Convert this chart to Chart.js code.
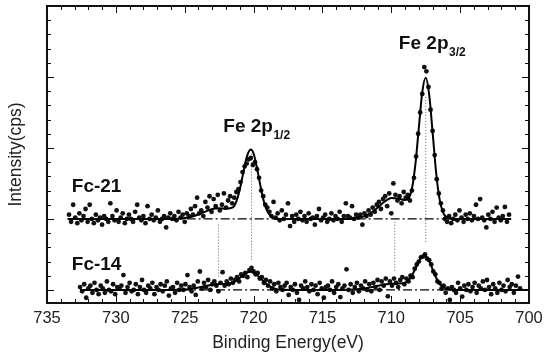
<!DOCTYPE html>
<html>
<head>
<meta charset="utf-8">
<script src="https://cdn.jsdelivr.net/npm/chart.js@4.4.1/dist/chart.umd.min.js"></script>
<style>
  html, body { margin: 0; padding: 0; background: #fff; }
</style>
</head>
<body>
<canvas id="chartXps" width="550" height="358"></canvas>
<script>
// measured points, one every eStep eV starting at the high-energy end
const eStep = 0.15;
const fc21Start = 733.4;
const fc14Start = 732.6;

const fc21Counts = [
    5.3, 4.8, 6.0, 5.1, 4.7, 5.4, 4.9, 5.2, 5.7, 4.8,
    6.0, 5.0, 4.7, 5.3, 4.9, 5.1, 4.6, 5.2, 5.0, 4.8,
    6.1, 5.2, 4.9, 5.6, 4.8, 5.1, 5.4, 4.7, 5.0, 5.3,
    5.0, 4.8, 5.5, 6.0, 5.1, 4.9, 5.2, 4.7, 5.9, 5.0,
    5.3, 4.9, 5.1, 5.6, 4.8, 5.0, 5.2, 4.4, 5.1, 5.4,
    5.0, 5.2, 4.9, 5.5, 5.1, 5.3, 4.8, 5.4, 5.2, 5.7,
    5.3, 5.9, 6.5, 5.4, 5.6, 5.2, 6.2, 5.8, 6.6, 5.5,
    6.4, 5.9, 6.7, 5.6, 6.0, 6.8, 5.8, 6.3, 6.6, 6.1,
    6.5, 6.9, 7.1, 7.6, 8.3, 8.7, 8.9, 9.2, 9.3, 8.8,
    9.0, 8.5, 7.9, 7.0, 6.6, 6.0, 5.8, 5.5, 5.2, 6.2,
    5.1, 5.4, 4.9, 5.6, 5.0, 5.3, 6.1, 4.5, 5.2, 4.8,
    5.3, 5.0, 5.5, 4.9, 5.2, 4.8, 5.4, 5.0, 5.1, 4.6,
    5.2, 5.7, 4.9, 5.1, 5.3, 4.8, 5.0, 5.4, 4.9, 5.2,
    5.0, 5.5, 4.8, 5.2, 6.1, 5.2, 5.1, 5.9, 5.0, 5.3,
    5.1, 5.3, 4.6, 5.4, 5.2, 5.6, 5.3, 5.8, 5.5, 6.0,
    6.2, 5.7, 6.4, 6.6, 5.9, 6.8, 5.4, 7.5, 6.7, 6.3,
    6.6, 6.1, 6.9, 6.5, 6.7, 6.3, 7.0, 7.9, 9.4, 11.0,
    12.5, 13.8, 15.7, 15.4, 14.3, 12.7, 11.2, 9.5, 7.8, 6.8,
    6.1, 5.6, 5.0, 4.8, 5.2, 4.7, 5.0, 5.3, 4.9, 5.6,
    5.1, 4.8, 5.3, 5.0, 5.4, 4.9, 5.2, 6.0, 5.0, 6.4,
    5.1, 4.9, 4.4, 5.3, 5.0, 5.5, 4.8, 5.8, 5.1, 4.9,
    5.2, 5.85, 4.8, 5.3
];

const fc14Counts = [
    0.2, -0.1, 0.4, -0.55, 0.1, 0.3, -0.2, 0.5, 0.0, -0.3,
    0.3, 0.1, -0.2, 0.6, 0.0, -0.1, 0.4, -0.3, 0.2, 0.1,
    0.3, 1.05, -0.2, 0.2, 0.5, -0.1, 0.0, 0.4, -0.3, 0.2,
    0.7, 0.0, -0.2, 0.3, 0.1, 0.5, -0.3, 0.2, 0.0, 0.4,
    -0.1, 0.3, 0.6, -0.4, 0.1, 0.2, -0.2, 0.5, 0.0, 0.3,
    0.0, 0.4, 1.05, 0.2, -0.1, 0.3, -0.35, 0.6, 1.3, 0.1,
    0.5, 0.2, 0.7, 0.0, 0.4, 0.6, 0.3, -0.1, 0.5, 1.25,
    0.3, 0.6, 0.4, 0.8, 0.5, 0.7, 0.9, 0.6, 1.1, 1.0,
    1.2, 0.9, 1.4, 1.55, 1.3, 1.1, 1.2, 0.8, 0.9, 0.5,
    0.7, 0.3, 0.6, 0.1, 0.4, -0.1, 0.5, 0.2, 0.0, 0.3,
    0.5, -0.35, 0.2, 0.0, 0.4, -0.2, -0.7, 0.3, 0.1, 0.6,
    0.2, -0.1, 0.4, 0.0, 0.3, -0.3, 0.5, 0.1, -0.55, 0.2,
    0.3, 0.0, 0.6, -0.2, 0.2, 0.4, -0.5, 0.1, 0.3, 1.45,
    0.0, 0.4, -0.2, 0.2, 0.5, -0.1, 0.3, 0.1, 0.6, 0.0,
    0.4, -0.1, 0.5, 0.2, 0.7, 0.0, 0.6, 0.3, 0.8, -0.45,
    0.6, 0.3, 0.8, 0.5, 0.2, 0.7, 0.9, 0.4, 0.8, 0.6,
    1.0, 0.9, 1.5, 1.8, 2.0, 2.3, 2.35, 2.5, 2.2, 2.1,
    1.8, 1.3, 1.1, 0.6, 0.5, 0.1, 0.3, -0.2, 0.1, -0.7,
    0.2, 0.0, -0.2, 0.5, 0.1, -0.47, 0.3, 0.0, 0.4, -0.1,
    0.2, 0.5, -0.2, 0.3, 0.1, 0.6, 0.0, 0.7, 0.2, -0.3,
    0.4, 0.1, -0.2, 0.5, 0.0, 0.3, -0.1, 0.7, 0.2, 0.4,
    -0.2, 0.3, 0.94, 0.1
];

// fitted envelopes
const fit21Energy = [733.5, 726, 725.5, 725, 724.5, 724, 723.5, 723, 722.5, 722, 721.5, 721.25, 721, 720.75,
    720.5, 720.2, 720, 719.75, 719.5, 719.25, 719, 718.5, 718, 713, 712.5, 712, 711.5, 711, 710.5, 710,
    709.5, 709, 708.75, 708.5, 708.25, 708, 707.75, 707.5, 707.25, 707, 706.75, 706.5, 706.25, 706, 705.5, 701.3];
const fit21Counts = [5, 5, 5.02, 5.06, 5.15, 5.31, 5.52, 5.70, 5.75, 5.72, 5.81, 6.24, 7.08, 8.23,
    9.35, 9.89, 9.61, 8.58, 7.32, 6.23, 5.54, 5.06, 5, 5, 5.06, 5.18, 5.42, 5.79, 6.21, 6.48,
    6.44, 6.33, 6.45, 7.14, 8.84, 11.42, 13.93, 14.94, 13.77, 11.11, 8.32, 6.43, 5.48, 5.13, 5, 5];

const fit14Energy = [732.6, 726, 725, 724.5, 724, 723.5, 723, 722.5, 722, 721.5, 721, 720.5, 720.2, 720,
    719.5, 719, 718.5, 718, 714, 713, 712.5, 712, 711.5, 711, 710.5, 710, 709.5, 709, 708.75, 708.5,
    708.25, 708, 707.6, 707.25, 707, 706.75, 706.5, 706, 705.5, 700];
const fit14Counts = [0, 0, 0.03, 0.08, 0.17, 0.28, 0.37, 0.41, 0.42, 0.52, 0.85, 1.22, 1.28, 1.23,
    0.83, 0.36, 0.11, 0.02, 0, 0.02, 0.05, 0.10, 0.18, 0.29, 0.39, 0.44, 0.45, 0.52, 0.68, 1.02,
    1.50, 2.04, 2.45, 2.04, 1.45, 0.88, 0.44, 0.07, 0, 0];

// background lines
const base21Energy = [733.5, 701.3];
const base21Counts = [5, 5];
const base14Energy = [732.6, 700];
const base14Counts = [0, 0];

// peak position guides
const guideEnergy = [722.55, 720.15, 709.75, 707.5];
const guideTop = [4.6, 9.6, 4.8, 13.6];
const guideBottom = [0.9, 2.1, 1.35, 3.3];

const xTicks = [735, 730, 725, 720, 715, 710, 705, 700];

function pairs(xs, ys) {
    return xs.map((v, i) => ({x: v, y: ys[i]}));
}

function grid(start, counts) {
    return counts.map((c, i) => ({x: +(start - i * eStep).toFixed(2), y: c}));
}

const FONT = "'Liberation Sans', Arial, sans-serif";

const datasets = [
    {
        data: pairs(base21Energy, base21Counts),
        showLine: true, pointRadius: 0, borderColor: '#000', borderWidth: 1.2, borderDash: [9, 3, 2, 3]
    },
    {
        data: pairs(base14Energy, base14Counts),
        showLine: true, pointRadius: 0, borderColor: '#000', borderWidth: 1.2, borderDash: [9, 3, 2, 3]
    },
    {
        data: pairs(fit21Energy, fit21Counts),
        showLine: true, pointRadius: 0, borderColor: '#000', borderWidth: 2, cubicInterpolationMode: 'monotone'
    },
    {
        data: pairs(fit14Energy, fit14Counts),
        showLine: true, pointRadius: 0, borderColor: '#000', borderWidth: 2, cubicInterpolationMode: 'monotone'
    },
    {
        data: grid(fc21Start, fc21Counts),
        pointRadius: 2.4, pointBackgroundColor: '#111', pointBorderWidth: 0
    },
    {
        data: grid(fc14Start, fc14Counts),
        pointRadius: 2.4, pointBackgroundColor: '#111', pointBorderWidth: 0
    }
];

guideEnergy.forEach((e, i) => {
    datasets.push({
        data: [{x: e, y: guideTop[i]}, {x: e, y: guideBottom[i]}],
        showLine: true, pointRadius: 0, borderColor: '#666', borderWidth: 1, borderDash: [1, 2]
    });
});

// labels placed in data units (eV, counts)
const peakLabels = [
    {main: 'Fe 2p', sub: '1/2', x: 722.2, y: 11.1},
    {main: 'Fe 2p', sub: '3/2', x: 709.45, y: 17.0}
];
const sampleLabels = [
    {text: 'Fc-21', x: 733.2, y: 6.9},
    {text: 'Fc-14', x: 733.2, y: 1.4}
];

const framePlugin = {
    id: 'frame',
    afterDraw(chart) {
        const {ctx, chartArea: a, scales: {x, y}} = chart;
        ctx.save();
        ctx.strokeStyle = '#111';
        ctx.lineWidth = 1;
        ctx.beginPath();
        for (let e = 700; e <= 735; e++) {
            const px = Math.round(x.getPixelForValue(e)) + 0.5;
            const len = e % 5 === 0 ? 7 : 4;
            ctx.moveTo(px, a.bottom); ctx.lineTo(px, a.bottom - len);
            ctx.moveTo(px, a.top); ctx.lineTo(px, a.top + len);
        }
        for (let v = 0; v <= 20; v++) {
            const py = Math.round(y.getPixelForValue(v)) + 0.5;
            const len = v % 5 === 0 ? 7 : 4;
            ctx.moveTo(a.left, py); ctx.lineTo(a.left + len, py);
            ctx.moveTo(a.right, py); ctx.lineTo(a.right - len, py);
        }
        ctx.stroke();
        ctx.lineWidth = 2;
        ctx.strokeRect(a.left, a.top, a.right - a.left, a.bottom - a.top);

        ctx.fillStyle = '#111';
        ctx.textBaseline = 'alphabetic';
        ctx.textAlign = 'left';
        peakLabels.forEach(l => {
            const px = x.getPixelForValue(l.x);
            const py = y.getPixelForValue(l.y);
            ctx.font = 'bold 19px ' + FONT;
            ctx.fillText(l.main, px, py);
            const w = ctx.measureText(l.main).width;
            ctx.font = 'bold 12px ' + FONT;
            ctx.fillText(l.sub, px + w + 0.5, py + 7);
        });
        ctx.font = 'bold 19px ' + FONT;
        sampleLabels.forEach(l => {
            ctx.fillText(l.text, x.getPixelForValue(l.x), y.getPixelForValue(l.y));
        });
        ctx.restore();
    }
};

const ctx = document.getElementById('chartXps').getContext('2d');
new Chart(ctx, {
    type: 'scatter',
    data: {datasets: datasets},
    options: {
        responsive: false,
        animation: false,
        devicePixelRatio: 1,
        layout: {
            padding: {top: 6, right: 21, left: 0, bottom: 0}
        },
        scales: {
            x: {
                type: 'linear',
                min: 700,
                max: 735,
                reverse: true,
                afterBuildTicks: (scale) => {
                    scale.ticks = xTicks.map(v => ({value: v}));
                },
                afterFit: (scale) => {
                    scale.height = 55;
                },
                grid: {display: false, drawTicks: false},
                border: {display: false},
                ticks: {
                    color: '#222',
                    padding: 6,
                    maxRotation: 0,
                    font: {family: FONT, size: 16.5}
                },
                title: {
                    display: true,
                    text: 'Binding Energy(eV)',
                    color: '#222',
                    padding: {top: 0, bottom: 4},
                    font: {family: FONT, size: 17.5}
                }
            },
            y: {
                type: 'linear',
                min: -0.92,
                max: 20,
                afterFit: (scale) => {
                    scale.width = 47;
                },
                grid: {display: false, drawTicks: false},
                border: {display: false},
                ticks: {display: false},
                title: {
                    display: true,
                    text: 'Intensity(cps)',
                    color: '#222',
                    padding: {top: 6, bottom: 0},
                    font: {family: FONT, size: 17.5}
                }
            }
        },
        plugins: {
            legend: {display: false},
            title: {display: false},
            tooltip: {enabled: false}
        }
    },
    plugins: [framePlugin]
});
</script>
</body>
</html>
